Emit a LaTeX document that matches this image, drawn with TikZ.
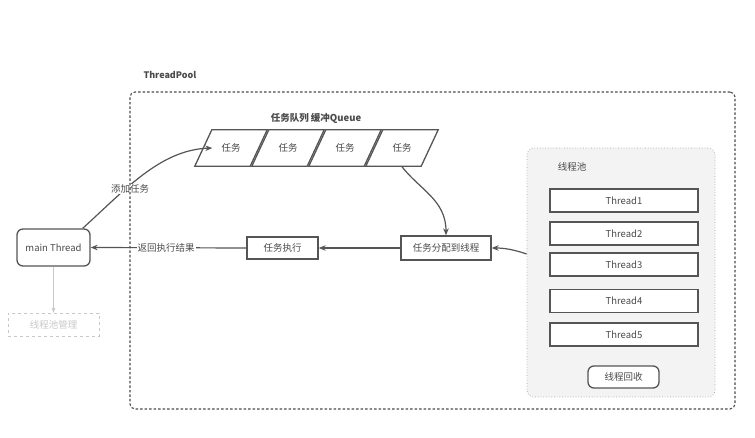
\documentclass[tikz,border=0pt]{standalone}
\usepackage{fontspec}
\setmainfont{Noto Sans CJK SC}
\usetikzlibrary{arrows.meta,calc}
\definecolor{linec}{HTML}{555555}
\definecolor{txtc}{HTML}{4A4A4A}
\definecolor{panelc}{HTML}{F3F3F3}
\definecolor{faint}{HTML}{C8C8C8}
\tikzset{
  box/.style={draw=linec, line width=1.3pt, fill=white, inner sep=0pt, text=txtc, font=\fontsize{9.5}{11}\selectfont},
  qcell/.style={inner sep=0pt, minimum width=55pt, minimum height=36pt, text=txtc, font=\fontsize{9.5}{11}\selectfont},
  conn/.style={draw=linec, line width=1.2pt, -{Stealth[length=7pt,width=5.5pt]}},
  lbl/.style={fill=white, inner sep=1pt, text=txtc, font=\fontsize{9.5}{11}\selectfont},
}
\begin{document}
\begin{tikzpicture}[x=1pt,y=-1pt]
\useasboundingbox (0,0) rectangle (755,438);
\fill[white] (0,0) rectangle (755,438);

% title
\node[anchor=west, text=txtc, font=\bfseries\fontsize{9}{11}\selectfont] (tp) at (140,75) {ThreadPool};
\node[text=txtc, font=\bfseries\fontsize{9.5}{11}\selectfont] (qt) at (316,118) {任务队列 缓冲Queue};

% queue cells
\foreach \i/\cx in {1/231,2/288,3/345,4/402}{
  \node[qcell] (q\i) at (\cx,148) {任务};
  \draw[linec, line width=1.3pt, fill=white]
    ([xshift=8.5pt]q\i.north west) -- ([xshift=8.5pt]q\i.north east) --
    ([xshift=-8.5pt]q\i.south east) -- ([xshift=-8.5pt]q\i.south west) -- cycle;
  \node[qcell] at (q\i) {任务};
}

% thread pool panel
\node[draw=gray!70, dotted, line width=0.7pt, fill=panelc, rounded corners=7pt,
      minimum width=188pt, minimum height=249pt, inner sep=0pt] (pool) at (621,272.5) {};
\node[text=txtc, font=\fontsize{9.5}{11}\selectfont] (pl) at (572,167) {线程池};
\foreach \i/\cy in {1/200.5,2/233.5,3/264.5,4/301,5/334.5}{
  \node[box, minimum width=148pt, minimum height=23pt] (t\i) at (624,\cy) {Thread\i};
}
\node[box, rounded corners=6pt, minimum width=71pt, minimum height=22pt] (rec) at (623.5,377) {线程回收};

% flow boxes
\node[box, minimum width=90pt, minimum height=24pt] (assign) at (446,248) {任务分配到线程};
\node[box, minimum width=71pt, minimum height=22pt] (exec) at (282.5,248) {任务执行};
\node[box, rounded corners=6pt, minimum width=73pt, minimum height=37pt] (main) at (53.5,247.5) {main Thread};
\node[draw=faint, dashed, line width=0.8pt, inner sep=0pt, minimum width=91pt, minimum height=23pt,
      text=faint, font=\fontsize{9.5}{11}\selectfont] (mgr) at (53.5,324.5) {线程池管理};

% connectors
\draw[draw=faint, line width=0.8pt, -{Stealth[length=5pt,width=4pt]}] (main.south) -- (mgr.north);
\draw[conn] ([xshift=-8pt]main.north east) .. controls (125,190) and (160,150) .. ([xshift=9pt]q1.west);
\node[lbl] (addl) at (130,189) {添加任务};
\draw[conn] ([xshift=-0.5pt]q4.south) .. controls (420,190) and (446,200) .. (assign.north);
\draw[conn] ([yshift=18.5pt]pool.west) .. controls (515,250) and (505,248) .. (assign.east);
\draw[conn] (assign.west) -- (exec.east);
\draw[conn] (exec.west) -- (main.east);
\node[lbl] (retl) at (166,248) {返回执行结果};

% outer dashed frame
\node[draw=linec!90!black, dash pattern=on 2.5pt off 2pt, line width=1.1pt, rounded corners=5pt,
      minimum width=605pt, minimum height=317pt, inner sep=0pt] (frame) at (432.5,250.5) {};
\end{tikzpicture}
\end{document}
